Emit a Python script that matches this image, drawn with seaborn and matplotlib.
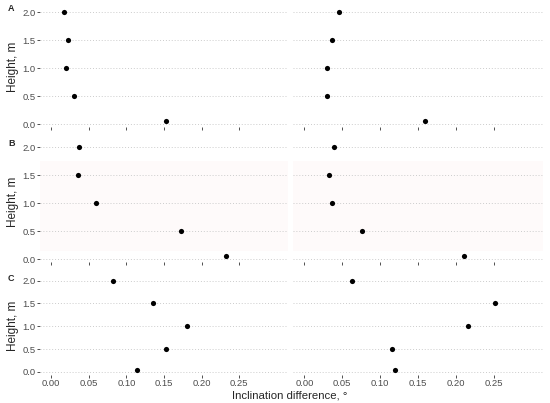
import pandas as pd
import seaborn as sns
import matplotlib.pyplot as plt

heights = [2.0, 1.5, 1.0, 0.5, 0.05]
a_left = [0.017, 0.022, 0.020, 0.030, 0.152]
a_right = [0.046, 0.036, 0.030, 0.030, 0.159]
b_left = [0.037, 0.035, 0.060, 0.173, 0.232]
b_right = [0.039, 0.032, 0.036, 0.076, 0.211]
c_left = [0.082, 0.136, 0.181, 0.152, 0.114]
c_right = [0.063, 0.252, 0.216, 0.116, 0.120]
panel_labels = ["A", "B", "C"]
x_ticks = [0.00, 0.05, 0.10, 0.15, 0.20, 0.25]
y_ticks = [0.0, 0.5, 1.0, 1.5, 2.0]

rows = [(a_left, a_right), (b_left, b_right), (c_left, c_right)]

sns.set_style("white")
plt.rcParams['font.family'] = ['Liberation Sans', 'DejaVu Sans']

W, H = 550, 403
fig = plt.figure(figsize=(W / 100, H / 100), dpi=100)

# panel boxes in pixels: (top, bottom)
row_px = [(6.4, 127.4), (141.4, 262.4), (276.1, 374.7)]
col_px = [(40, 288), (293, 543)]

for r, (vals, (top, bot)) in enumerate(zip(rows, row_px)):
    for c, (x0, x1) in enumerate(col_px):
        ax = fig.add_axes([x0 / W, 1 - bot / H, (x1 - x0) / W, (bot - top) / H])
        df = pd.DataFrame({"diff": vals[c], "height": heights})
        if r == 1:
            ax.axhspan(0.15, 1.75, color="#fefafa", zorder=0, lw=0)
        for yt in y_ticks:
            ax.axhline(yt, color="#cccccc", lw=0.7, ls=(0, (1, 2)), zorder=1)
        sns.scatterplot(data=df, x="diff", y="height", ax=ax, color="black",
                        s=14, linewidth=0, zorder=3)
        ax.set_xlim(-0.015, 0.315)
        ax.set_ylim(-0.06, 2.1)
        ax.set_xticks(x_ticks)
        ax.set_yticks(y_ticks)
        for s in ax.spines.values():
            s.set_visible(False)
        ax.tick_params(axis="both", bottom=True, left=True, length=2.2,
                       width=0.6, color="#333333", labelsize=6.8,
                       labelcolor="#4d4d4d", pad=1.2)
        ax.set_xlabel("")
        ax.set_ylabel("")
        if r < 2:
            ax.set_xticklabels([])
        else:
            ax.set_xticklabels([f"{v:.2f}" for v in x_ticks])
        if c == 0:
            ax.set_yticklabels([f"{v:.1f}" for v in y_ticks])
            ax.set_ylabel("Height, m", fontsize=8.5, labelpad=2)
        else:
            ax.tick_params(axis="y", left=False)
            ax.set_yticklabels([])
    fig.text(8 / W, 1 - (top + 2) / H, panel_labels[r], fontsize=6.5,
             fontweight="bold", va="center", ha="left")

fig.text(290 / W, 1 - 396 / H, "Inclination difference, °", fontsize=8.2,
         ha="center", va="center")

fig.savefig("out.png", dpi=100)
